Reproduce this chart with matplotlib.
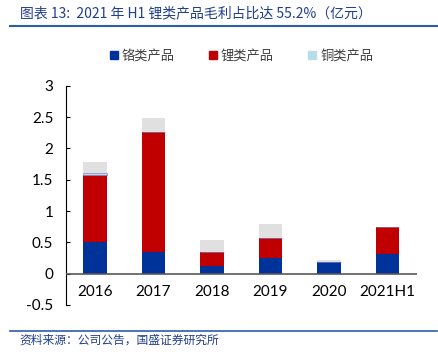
import numpy as np
import matplotlib.pyplot as plt
from matplotlib.patches import Patch
from matplotlib.lines import Line2D

plt.rcParams['font.family'] = ['Noto Sans CJK SC', 'DejaVu Sans']

years = ['2016', '2017', '2018', '2019', '2020', '2021H1']
chrome = [0.50, 0.34, 0.13, 0.25, 0.19, 0.32]
lithium = [1.08, 1.92, 0.21, 0.32, 0.00, 0.42]
copper = [0.03, 0.00, 0.00, 0.00, 0.00, 0.00]
other = [0.18, 0.22, 0.19, 0.23, 0.03, 0.01]

c_blue = '#003399'
c_red = '#C00000'
c_cu = '#B7DEE8'
c_gray = '#E0E0E0'
num_font = 'Lato'

fig = plt.figure(figsize=(4.39, 3.55), dpi=100)
ax = fig.add_axes([0.150, 0.141, 0.799, 0.617])

x = np.arange(len(years))
w = 0.4
b1 = np.array(chrome)
b2 = b1 + np.array(lithium)
b3 = b2 + np.array(copper)
ax.bar(x, chrome, w, color=c_blue, zorder=2)
ax.bar(x, lithium, w, bottom=b1, color=c_red, zorder=2)
ax.bar(x, copper, w, bottom=b2, color=c_cu, edgecolor='#8080C0', linewidth=0.5, zorder=2)
ax.bar(x, other, w, bottom=b3, color=c_gray, zorder=2)

ax.set_xlim(-0.5, len(years) - 0.5)
ax.set_ylim(-0.5, 3)
ax.set_yticks(np.arange(-0.5, 3.01, 0.5))
ax.set_yticklabels(['-0.5', '0', '0.5', '1', '1.5', '2', '2.5', '3'], family=num_font, fontsize=11)
ax.tick_params(axis='y', direction='in', length=3, width=0.8, pad=9)
ax.set_xticks([])
for s in ['top', 'right', 'bottom']:
    ax.spines[s].set_visible(False)
ax.spines['left'].set_color('black')
ax.spines['left'].set_linewidth(0.8)
ax.axhline(0, color='#595959', linewidth=1.2, zorder=3)
for xi, t in zip(x, years):
    ax.text(xi, -0.30, t, ha='center', va='center', fontsize=11, family=num_font)

handles = [Patch(color=c_blue), Patch(color=c_red), Patch(color=c_cu)]
fig.legend(handles, ['铬类产品', '锂类产品', '铜类产品'], loc='center',
           bbox_to_anchor=(0.55, 0.842), ncol=3, frameon=False, fontsize=9.5,
           handlelength=0.6, handleheight=0.6, handletextpad=0.3, columnspacing=2.6,
           labelcolor='#404040')

fig.text(0.045, 0.963, '图表 13:  2021 年 H1 锂类产品毛利占比达 55.2%（亿元）', fontsize=10,
         color='#1F3F8F', va='center', ha='left', style='italic')
fig.add_artist(Line2D([0.023, 0.995], [0.926, 0.926], color='#2E5DA8', linewidth=1.5))
fig.add_artist(Line2D([0.023, 0.995], [0.068, 0.068], color='#2E5DA8', linewidth=1.2))
fig.text(0.045, 0.042, '资料来源：公司公告，国盛证券研究所', fontsize=8.5,
         color='#1F3F8F', va='center', ha='left', style='italic')

fig.savefig('out.png', dpi=100)
